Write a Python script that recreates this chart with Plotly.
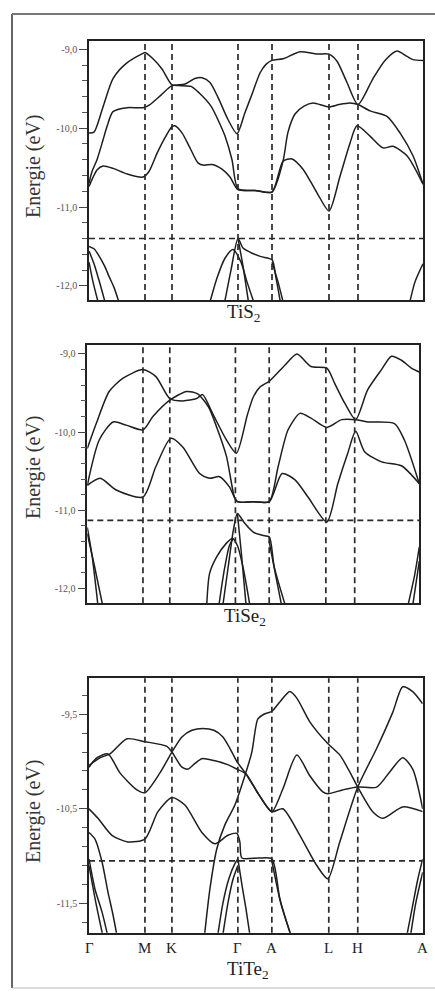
import plotly.graph_objects as go

W, H = 435, 995

# high-symmetry points along the path (arbitrary path units)
KPOS = [0, 56, 83, 149, 183, 240, 269, 334]
KLAB = ["Γ", "M", "K", "Γ", "A", "L", "H", "A"]

# ---------------- TiS2 ----------------
tis2_b1_k = [0, 5, 14, 24, 37, 54, 56, 64, 73, 83, 90, 96, 106, 113, 121, 129, 139, 148, 156, 163, 171, 177, 183, 194, 211, 228, 240, 248, 258, 269, 284, 296, 308, 318, 324, 334]
tis2_b1_e = [-10.06, -10.05, -9.73, -9.37, -9.18, -9.05, -9.04, -9.12, -9.25, -9.45, -9.45, -9.44, -9.37, -9.36, -9.42, -9.61, -9.89, -10.07, -9.80, -9.57, -9.30, -9.19, -9.14, -9.12, -9.03, -9.06, -9.06, -9.15, -9.42, -9.70, -9.37, -9.14, -9.02, -9.09, -9.13, -9.14]
tis2_b2_k = [0, 3, 8, 14, 18, 24, 38, 54, 61, 72, 83, 90, 102, 110, 122, 131, 136, 143, 149, 166, 183, 194, 199, 206, 215, 224, 240, 250, 261, 269, 281, 298, 311, 324, 334]
tis2_b2_e = [-10.70, -10.55, -10.40, -10.15, -9.98, -9.79, -9.74, -9.74, -9.70, -9.58, -9.46, -9.46, -9.47, -9.55, -9.72, -9.95, -10.10, -10.40, -10.77, -10.79, -10.81, -10.42, -10.05, -9.82, -9.72, -9.68, -9.73, -9.70, -9.68, -9.70, -9.78, -9.85, -10.06, -10.35, -10.71]
tis2_b3_k = [0, 8, 14, 24, 38, 54, 60, 68, 76, 83, 86, 93, 101, 109, 115, 123, 133, 141, 149, 166, 183, 194, 203, 214, 228, 240, 251, 261, 268, 281, 294, 304, 318, 334]
tis2_b3_e = [-10.74, -10.53, -10.48, -10.51, -10.58, -10.62, -10.55, -10.32, -10.12, -9.98, -9.97, -10.06, -10.25, -10.44, -10.47, -10.46, -10.52, -10.62, -10.78, -10.79, -10.81, -10.42, -10.39, -10.52, -10.82, -11.05, -10.61, -10.19, -9.97, -10.10, -10.25, -10.23, -10.35, -10.71]
tis2_v1_k = [0, 5, 10, 16, 20, 25, 31]
tis2_v1_e = [-11.50, -11.53, -11.62, -11.76, -11.88, -12.02, -12.25]
tis2_v2_k = [0, 5, 10, 17]
tis2_v2_e = [-11.56, -11.72, -11.93, -12.25]
tis2_v3_k = [0, 4, 10]
tis2_v3_e = [-11.70, -11.95, -12.25]
tis2_v4_k = [120, 128, 136, 144, 152, 158, 166]
tis2_v4_e = [-12.25, -11.90, -11.65, -11.54, -11.70, -11.95, -12.25]
tis2_v5_k = [135, 142, 149, 154, 162, 172, 183, 187, 192]
tis2_v5_e = [-12.25, -11.80, -11.40, -11.52, -11.58, -11.63, -11.67, -11.90, -12.25]
tis2_v6_k = [149, 154, 160]
tis2_v6_e = [-11.40, -11.75, -12.25]
tis2_v7_k = [183, 189, 195]
tis2_v7_e = [-11.70, -11.95, -12.25]
tis2_v8_k = [320, 326, 334]
tis2_v8_e = [-12.25, -11.95, -11.72]
tis2_fermi = -11.40

# ---------------- TiSe2 ----------------
tise2_b1_k = [0, 9, 22, 36, 56, 69, 83, 96, 110, 116, 126, 140, 150, 161, 167, 174, 183, 199, 211, 225, 241, 249, 259, 270, 282, 296, 306, 316, 326, 334]
tise2_b1_e = [-10.21, -9.89, -9.48, -9.31, -9.20, -9.29, -9.57, -9.60, -9.57, -9.52, -9.76, -10.10, -10.27, -9.78, -9.55, -9.42, -9.35, -9.14, -9.00, -9.16, -9.18, -9.38, -9.63, -9.84, -9.46, -9.20, -9.03, -9.08, -9.18, -9.23]
tise2_b2_k = [0, 12, 26, 39, 56, 66, 83, 100, 111, 122, 130, 140, 148, 151, 167, 183, 192, 202, 214, 225, 241, 256, 270, 282, 309, 319, 334]
tise2_b2_e = [-10.68, -10.10, -9.87, -9.91, -9.97, -9.80, -9.59, -9.48, -9.51, -9.68, -9.93, -10.31, -10.83, -10.89, -10.89, -10.89, -10.44, -9.97, -9.76, -9.82, -9.94, -9.84, -9.84, -9.87, -9.89, -10.10, -10.66]
tise2_b3_k = [0, 13, 29, 56, 69, 84, 96, 113, 123, 133, 143, 151, 167, 183, 196, 209, 222, 241, 252, 262, 270, 279, 296, 316, 334]
tise2_b3_e = [-10.68, -10.59, -10.74, -10.83, -10.44, -10.08, -10.19, -10.53, -10.59, -10.57, -10.70, -10.89, -10.89, -10.89, -10.53, -10.61, -10.83, -11.15, -10.66, -10.27, -9.99, -10.25, -10.38, -10.43, -10.66]
tise2_v1_k = [0, 5, 11]
tise2_v1_e = [-11.22, -11.60, -12.25]
tise2_v2_k = [0, 7, 16]
tise2_v2_e = [-11.30, -11.70, -12.25]
tise2_v3_k = [120, 123, 130, 140, 146, 151, 157, 164]
tise2_v3_e = [-12.25, -11.81, -11.60, -11.42, -11.36, -11.45, -11.75, -12.25]
tise2_v4_k = [132, 138, 143, 147]
tise2_v4_e = [-12.25, -11.75, -11.45, -11.36]
tise2_v5_k = [136, 142, 147, 151, 158, 167, 176, 183, 188, 200]
tise2_v5_e = [-12.25, -11.70, -11.25, -11.04, -11.16, -11.28, -11.32, -11.34, -11.72, -12.25]
tise2_v6_k = [151, 155, 160]
tise2_v6_e = [-11.04, -11.55, -12.25]
tise2_v7_k = [183, 189, 196]
tise2_v7_e = [-11.40, -11.80, -12.25]
tise2_v8_k = [322, 329, 334]
tise2_v8_e = [-12.25, -11.85, -11.47]
tise2_v9_k = [327, 334]
tise2_v9_e = [-12.25, -11.65]
tise2_fermi = -11.13

# ---------------- TiTe2 ----------------
tite2_b1_k = [115, 121, 128, 136, 146, 156, 163, 169, 175, 183, 191, 201, 208, 221, 239, 251, 261, 269, 284, 294, 314, 334]
tite2_b1_e = [-11.90, -11.35, -10.92, -10.67, -10.46, -10.15, -9.90, -9.55, -9.50, -9.47, -9.37, -9.26, -9.33, -9.58, -9.81, -9.93, -10.11, -10.27, -10.53, -10.60, -10.48, -10.53]
tite2_b2_k = [0, 11, 21, 38, 56, 78, 83, 93, 99, 106, 113, 125, 138, 148, 157, 170, 183, 194, 211, 228, 239, 251, 269, 288, 304, 314, 324, 334]
tite2_b2_e = [-10.04, -9.96, -9.92, -9.76, -9.79, -9.84, -9.90, -10.06, -10.08, -10.02, -9.97, -9.99, -10.03, -10.08, -10.13, -10.35, -10.53, -10.50, -10.78, -11.10, -11.24, -10.85, -10.27, -9.86, -9.48, -9.21, -9.26, -9.39]
tite2_b3_k = [0, 8, 19, 31, 48, 56, 71, 83, 93, 103, 114, 125, 134, 141, 148, 157, 170, 183, 194, 208, 221, 234, 239, 254, 269, 288, 301, 314, 324, 334]
tite2_b3_e = [-10.06, -9.96, -9.92, -10.12, -10.30, -10.33, -10.12, -9.90, -9.74, -9.67, -9.65, -9.67, -9.74, -9.86, -10.00, -10.13, -10.35, -10.53, -10.29, -9.93, -10.15, -10.32, -10.34, -10.30, -10.27, -10.27, -10.11, -9.96, -10.08, -10.50]
tite2_b4_k = [0, 9, 23, 39, 56, 69, 83, 96, 113, 126, 139, 148, 151, 153, 170, 183, 191, 201, 206]
tite2_b4_e = [-10.50, -10.60, -10.78, -10.85, -10.82, -10.53, -10.38, -10.46, -10.75, -10.87, -10.78, -10.76, -10.85, -11.02, -11.02, -11.03, -11.45, -11.80, -11.95]
tite2_v1_k = [0, 6, 13, 19, 24, 29]
tite2_v1_e = [-10.75, -10.82, -11.06, -11.38, -11.62, -11.90]
tite2_v2_k = [0, 6, 13, 20]
tite2_v2_e = [-11.03, -11.35, -11.59, -11.90]
tite2_v3_k = [0, 7, 15]
tite2_v3_e = [-11.10, -11.50, -11.90]
tite2_v4_k = [128, 134, 140, 146, 149]
tite2_v4_e = [-11.90, -11.50, -11.24, -11.08, -11.03]
tite2_v5_k = [149, 153, 157, 162]
tite2_v5_e = [-11.03, -11.30, -11.55, -11.90]
tite2_v6_k = [133, 139, 144, 149]
tite2_v6_e = [-11.90, -11.50, -11.25, -11.10]
tite2_v7_k = [183, 192, 204]
tite2_v7_e = [-11.05, -11.50, -11.90]
tite2_v8_k = [317, 324, 329, 334]
tite2_v8_e = [-11.90, -11.52, -11.25, -11.03]
tite2_v9_k = [321, 327, 334]
tite2_v9_e = [-11.90, -11.50, -11.17]
tite2_fermi = -11.05

# axes / labels
tis2_yticks = [-9.0, -10.0, -11.0, -12.0]
tis2_ytext = ["-9,0", "-10,0", "-11,0", "-12,0"]
tise2_yticks = [-9.0, -10.0, -11.0, -12.0]
tise2_ytext = ["-9,0", "-10,0", "-11,0", "-12,0"]
tite2_yticks = [-9.5, -10.5, -11.5]
tite2_ytext = ["-9,5", "-10,5", "-11,5"]
panel_names = ["TiS<sub>2</sub>", "TiSe<sub>2</sub>", "TiTe<sub>2</sub>"]
ytitle = "Energie (eV)"

panels = [
    dict(bands=[(tis2_b1_k, tis2_b1_e), (tis2_b2_k, tis2_b2_e), (tis2_b3_k, tis2_b3_e),
                (tis2_v1_k, tis2_v1_e), (tis2_v2_k, tis2_v2_e), (tis2_v3_k, tis2_v3_e),
                (tis2_v4_k, tis2_v4_e), (tis2_v5_k, tis2_v5_e), (tis2_v6_k, tis2_v6_e),
                (tis2_v7_k, tis2_v7_e), (tis2_v8_k, tis2_v8_e)],
         fermi=tis2_fermi, yr=[-12.18, -8.89], tv=tis2_yticks, tt=tis2_ytext, t0=-9.0,
         px=(89, 423), py=(40.7, 300), title_y=313, title_x=243, ytitle_y=167),
    dict(bands=[(tise2_b1_k, tise2_b1_e), (tise2_b2_k, tise2_b2_e), (tise2_b3_k, tise2_b3_e),
                (tise2_v1_k, tise2_v1_e), (tise2_v2_k, tise2_v2_e), (tise2_v3_k, tise2_v3_e),
                (tise2_v4_k, tise2_v4_e), (tise2_v5_k, tise2_v5_e), (tise2_v6_k, tise2_v6_e),
                (tise2_v7_k, tise2_v7_e), (tise2_v8_k, tise2_v8_e), (tise2_v9_k, tise2_v9_e)],
         fermi=tise2_fermi, yr=[-12.19, -8.885], tv=tise2_yticks, tt=tise2_ytext, t0=-9.0,
         px=(87.3, 419.3), py=(345, 603.3), title_y=617, title_x=245, ytitle_y=468),
    dict(bands=[(tite2_b1_k, tite2_b1_e), (tite2_b2_k, tite2_b2_e), (tite2_b3_k, tite2_b3_e),
                (tite2_b4_k, tite2_b4_e),
                (tite2_v1_k, tite2_v1_e), (tite2_v2_k, tite2_v2_e), (tite2_v3_k, tite2_v3_e),
                (tite2_v4_k, tite2_v4_e), (tite2_v5_k, tite2_v5_e), (tite2_v6_k, tite2_v6_e),
                (tite2_v7_k, tite2_v7_e), (tite2_v8_k, tite2_v8_e), (tite2_v9_k, tite2_v9_e)],
         fermi=tite2_fermi, yr=[-11.81, -9.12], tv=tite2_yticks, tt=tite2_ytext, t0=-9.5,
         px=(89, 422.7), py=(678.3, 932.7), title_y=970, title_x=248, ytitle_y=812),
]

SERIF = "Times New Roman, Liberation Serif, DejaVu Serif, serif"
LINE = "#1e1e1e"
DASH = "6px,4px"

fig = go.Figure()
shapes = []
annotations = []
layout = {}

for i, p in enumerate(panels):
    sfx = "" if i == 0 else str(i + 1)
    xname, yname = "x" + sfx, "y" + sfx
    for k, e in p["bands"]:
        fig.add_trace(go.Scatter(x=k, y=e, mode="lines", xaxis=xname, yaxis=yname,
                                 line=dict(color=LINE, width=1.5, shape="spline", smoothing=0.7),
                                 hoverinfo="skip", showlegend=False))
    # Fermi level (dashed horizontal)
    fig.add_trace(go.Scatter(x=[KPOS[0], KPOS[-1]], y=[p["fermi"], p["fermi"]], mode="lines",
                             xaxis=xname, yaxis=yname,
                             line=dict(color="#2a2a2a", width=1.7, dash=DASH),
                             hoverinfo="skip", showlegend=False))
    # vertical dashed lines at high-symmetry points
    for kp in KPOS[1:-1]:
        shapes.append(dict(type="line", xref=xname, yref=yname + " domain", x0=kp, x1=kp, y0=0, y1=1,
                           line=dict(color="#2a2a2a", width=1.7, dash=DASH), layer="above"))
    xd = [p["px"][0] / W, p["px"][1] / W]
    yd = [1 - p["py"][1] / H, 1 - p["py"][0] / H]
    layout["xaxis" + sfx] = dict(domain=xd, range=[KPOS[0], KPOS[-1]], anchor=yname,
                                 showgrid=False, zeroline=False, showline=True, mirror=True,
                                 linecolor="#222", linewidth=1.6, ticks="", showticklabels=False)
    layout["yaxis" + sfx] = dict(domain=yd, range=p["yr"], anchor=xname,
                                 showgrid=False, zeroline=False, showline=True, mirror=True,
                                 linecolor="#222", linewidth=1.6,
                                 ticks="outside", ticklen=8, tickwidth=1.2, tickcolor="#444",
                                 tickmode="array", tickvals=p["tv"], ticktext=p["tt"],
                                 tickfont=dict(family=SERIF, size=10, color="#555"),
                                 minor=dict(ticks="outside", ticklen=5, tickwidth=1, tickcolor="#555",
                                            tick0=p["t0"], dtick=0.2, showgrid=False))
    annotations.append(dict(text=panel_names[i], x=p["title_x"] / W, y=1 - p["title_y"] / H,
                            xref="paper", yref="paper", showarrow=False, xanchor="center",
                            yanchor="middle", font=dict(family=SERIF, size=19, color="#222")))
    annotations.append(dict(text=ytitle, x=33 / W, y=1 - p["ytitle_y"] / H, xref="paper", yref="paper",
                            showarrow=False, textangle=-90, xanchor="center", yanchor="middle",
                            font=dict(family=SERIF, size=20, color="#333")))

# k-point labels under the bottom panel
for kp, lab in zip(KPOS, KLAB):
    annotations.append(dict(text=lab, x=kp, y=1 - 948 / H, xref="x3", yref="paper", showarrow=False,
                            xanchor="center", yanchor="middle",
                            font=dict(family=SERIF, size=15, color="#222")))

# outer frame of the scanned page
shapes.append(dict(type="line", xref="paper", yref="paper", x0=12 / W, x1=12 / W,
                   y0=1 - 988 / H, y1=1 - 14 / H, line=dict(color="#666", width=2)))
shapes.append(dict(type="line", xref="paper", yref="paper", x0=12 / W, x1=1,
                   y0=1 - 14 / H, y1=1 - 14 / H, line=dict(color="#777", width=2)))
shapes.append(dict(type="line", xref="paper", yref="paper", x0=12 / W, x1=1,
                   y0=1 - 988 / H, y1=1 - 988 / H, line=dict(color="#bbb", width=1)))

fig.update_layout(width=W, height=H, margin=dict(l=0, r=0, t=0, b=0),
                  paper_bgcolor="white", plot_bgcolor="white",
                  font=dict(family=SERIF),
                  shapes=shapes, annotations=annotations, showlegend=False, **layout)

fig.write_html("out.html")
